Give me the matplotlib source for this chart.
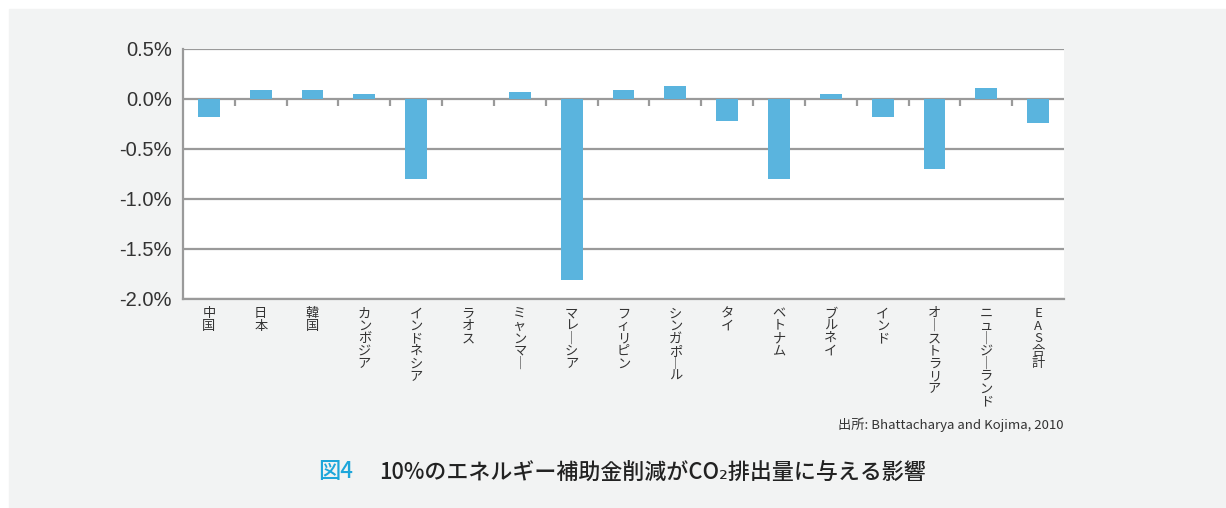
import numpy as np
import matplotlib.pyplot as plt
from matplotlib.patches import Rectangle

plt.rcParams["font.family"] = ["Liberation Sans", "Noto Sans CJK JP", "DejaVu Sans"]

COUNTRIES = [
    "中国", "日本", "韓国", "カンボジア", "インドネシア", "ラオス", "ミャンマー",
    "マレーシア", "フィリピン", "シンガポール", "タイ", "ベトナム", "ブルネイ",
    "インド", "オーストラリア", "ニュージーランド", "EAS合計",
]
CHANGE = [
    -0.18, 0.09, 0.09, 0.05, -0.80, 0.0, 0.07, -1.81, 0.09, 0.13,
    -0.22, -0.80, 0.05, -0.18, -0.70, 0.11, -0.24,
]
Y_TICKS = [0.5, 0.0, -0.5, -1.0, -1.5, -2.0]

BAR = "#5ab4de"
GRID = "#9a9a9a"
PANEL = "#f2f3f3"
JP = ["Noto Sans CJK JP", "DejaVu Sans"]


def vertical(label):
    # stack characters top to bottom, long vowel mark turned upright
    return "\n".join("｜" if c == "ー" else c for c in label)


fig = plt.figure(figsize=(12.26, 5.08), dpi=100)
fig.patches.append(Rectangle((9 / 1226, 0), 1, 1 - 9 / 508,
                             transform=fig.transFigure, color=PANEL, zorder=-10))

ax = fig.add_axes([183 / 1226, 1 - 299 / 508, (1064 - 183) / 1226, 250 / 508])
ax.set_facecolor("white")

x = np.arange(len(COUNTRIES))
ax.bar(x, CHANGE, width=0.42, color=BAR, zorder=3)

ax.set_xlim(-0.5, len(COUNTRIES) - 0.5)
ax.set_ylim(-2.0, 0.5)
ax.set_yticks(Y_TICKS)
ax.set_yticklabels([f"{v:.1f}%" for v in Y_TICKS], fontsize=14.5, color="#333333")
for v in Y_TICKS:
    ax.axhline(v, color=GRID, lw=1.6, zorder=1)

# small ticks on the zero line between categories
for b in np.arange(0.5, len(COUNTRIES) - 0.5, 1.0):
    ax.plot([b, b], [0, -0.07], color=GRID, lw=1.6, zorder=2, solid_capstyle="butt")

ax.set_xticks(x)
ax.set_xticklabels([vertical(c) for c in COUNTRIES], fontsize=9.5, color="#333333",
                   family=JP, linespacing=0.95, va="top")
ax.tick_params(axis="x", length=0, pad=6)
ax.tick_params(axis="y", length=0, pad=8)

for side in ["top", "right"]:
    ax.spines[side].set_visible(False)
for side in ["left", "bottom"]:
    ax.spines[side].set_color(GRID)
    ax.spines[side].set_linewidth(1.6)

fig.text(1064 / 1226, 1 - 425 / 508, "出所: Bhattacharya and Kojima, 2010",
         ha="right", va="center", fontsize=9.5, color="#333333", family=JP)

fig.text(318 / 1226, 1 - 472 / 508, "図4", ha="left", va="center", fontsize=16,
         color="#1ea6da", family=JP, weight="medium")
fig.text(379 / 1226, 1 - 472 / 508, "10%のエネルギー補助金削減がCO₂排出量に与える影響",
         ha="left", va="center", fontsize=15.8, color="#222222",
         family=JP, weight="medium")

fig.savefig("out.png", dpi=100)
